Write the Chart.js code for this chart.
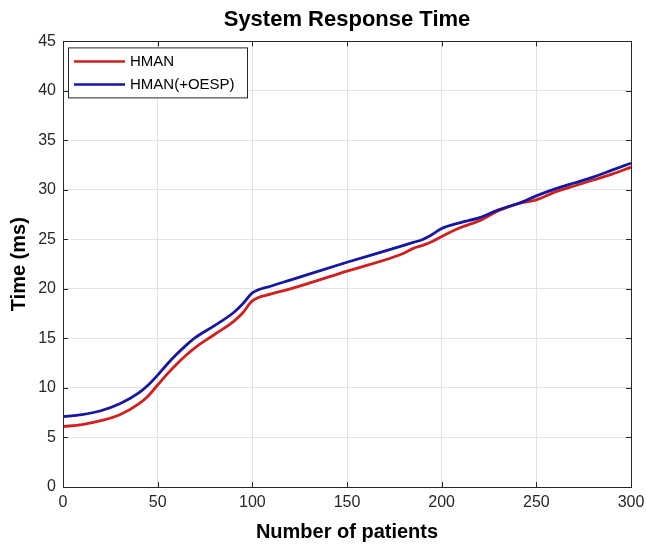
<!DOCTYPE html>
<html>
<head>
<meta charset="utf-8">
<script src="https://cdn.jsdelivr.net/npm/chart.js@4"></script>
<style>
  html, body { margin: 0; padding: 0; background: #fff; }
  #wrap { width: 646px; height: 546px; }
</style>
</head>
<body>
<div id="wrap"><canvas id="grafico" width="646" height="546"></canvas></div>
<script>
// datos
const pacientes = [0, 10, 20, 30, 40, 45, 50, 55, 60, 65, 70, 80, 90, 95, 100, 110, 120, 150,
  180, 185, 190, 195, 200, 210, 220, 230, 240, 250, 260, 270, 280, 290, 300];
const hman = [6.1, 6.3, 6.7, 7.3, 8.4, 9.2, 10.3, 11.4, 12.4, 13.3, 14.1, 15.4, 16.7, 17.6, 18.8, 19.5, 20.0, 21.8,
  23.6, 24.1, 24.4, 24.8, 25.3, 26.2, 26.9, 27.9, 28.6, 29.0, 29.8, 30.4, 31.0, 31.6, 32.3];
const hmanOesp = [7.1, 7.3, 7.7, 8.4, 9.5, 10.3, 11.3, 12.4, 13.4, 14.3, 15.1, 16.3, 17.6, 18.5, 19.6, 20.3, 20.9, 22.7,
  24.4, 24.7, 25.0, 25.5, 26.1, 26.7, 27.2, 28.0, 28.6, 29.4, 30.1, 30.7, 31.3, 32.0, 32.7];
const etiquetas = ["HMAN", "HMAN(+OESP)"];
const colores = ["#cf2020", "#1616a0"];

const fuente = "'Liberation Sans', Arial, sans-serif";
const toPts = ys => pacientes.map((x, i) => ({ x: x, y: ys[i] }));

// caja, marcas interiores y leyenda estilo MATLAB
const marco = {
  id: "marco",
  afterDatasetsDraw(chart) {
    const { ctx, chartArea: a, scales } = chart;
    ctx.save();
    ctx.strokeStyle = "#262626";
    ctx.lineWidth = 1;
    ctx.beginPath();
    const L = 5;
    scales.x.ticks.forEach(t => {
      const px = Math.round(scales.x.getPixelForValue(t.value)) + 0.5;
      ctx.moveTo(px, a.bottom); ctx.lineTo(px, a.bottom - L);
      ctx.moveTo(px, a.top); ctx.lineTo(px, a.top + L);
    });
    scales.y.ticks.forEach(t => {
      const py = Math.round(scales.y.getPixelForValue(t.value)) + 0.5;
      ctx.moveTo(a.left, py); ctx.lineTo(a.left + L, py);
      ctx.moveTo(a.right, py); ctx.lineTo(a.right - L, py);
    });
    ctx.stroke();
    ctx.strokeRect(Math.round(a.left) + 0.5, Math.round(a.top) + 0.5,
      Math.round(a.right - a.left), Math.round(a.bottom - a.top));

    // leyenda
    const lx = a.left + 5, ly = a.top + 6, lw = 179, lh = 50;
    ctx.fillStyle = "#fff";
    ctx.fillRect(lx, ly, lw, lh);
    ctx.strokeStyle = "#262626";
    ctx.strokeRect(lx + 0.5, ly + 0.5, lw, lh);
    ctx.font = "15px " + fuente;
    ctx.textBaseline = "middle";
    chart.data.datasets.forEach((ds, i) => {
      const y = ly + 14 + i * 23;
      ctx.strokeStyle = ds.borderColor;
      ctx.lineWidth = 2.5;
      ctx.beginPath();
      ctx.moveTo(lx + 6, y); ctx.lineTo(lx + 57, y);
      ctx.stroke();
      ctx.fillStyle = "#000";
      ctx.fillText(ds.label, lx + 62, y);
    });
    ctx.restore();
  }
};

const ctx = document.getElementById("grafico").getContext("2d");
new Chart(ctx, {
  type: "line",
  data: {
    datasets: [
      { label: etiquetas[0], data: toPts(hman), borderColor: colores[0], order: 1 },
      { label: etiquetas[1], data: toPts(hmanOesp), borderColor: colores[1], order: 0 }
    ]
  },
  options: {
    responsive: false,
    animation: false,
    layout: { padding: { left: 0, right: 15, top: 0, bottom: 0 } },
    elements: {
      point: { radius: 0 },
      line: { borderWidth: 2.8, cubicInterpolationMode: "monotone", fill: false }
    },
    plugins: {
      legend: { display: false },
      tooltip: { enabled: false },
      title: {
        display: true,
        text: "System Response Time",
        fullSize: false,
        color: "#000",
        font: { family: fuente, size: 22, weight: "bold" },
        padding: { top: 7, bottom: 8 }
      }
    },
    scales: {
      x: {
        type: "linear",
        min: 0,
        max: 300,
        ticks: { stepSize: 50, color: "#262626", padding: 6, maxRotation: 0,
          font: { family: fuente, size: 16 } },
        grid: { color: "#e3e3e3", drawTicks: false },
        border: { display: false },
        title: { display: true, text: "Number of patients", color: "#000",
          font: { family: fuente, size: 20, weight: "bold" }, padding: { top: 0, bottom: 2 } },
        afterFit: s => { s.height = 59; s.paddingLeft = 0; s.paddingRight = 0; }
      },
      y: {
        min: 0,
        max: 45,
        ticks: { stepSize: 5, color: "#262626", padding: 7,
          font: { family: fuente, size: 16 } },
        grid: { color: "#e3e3e3", drawTicks: false },
        border: { display: false },
        title: { display: true, text: "Time (ms)", color: "#000",
          font: { family: fuente, size: 20, weight: "bold" }, padding: { top: 7, bottom: 0 } },
        afterFit: s => { s.width = 63; s.paddingTop = 0; s.paddingBottom = 0; }
      }
    }
  },
  plugins: [marco]
});
</script>
</body>
</html>
